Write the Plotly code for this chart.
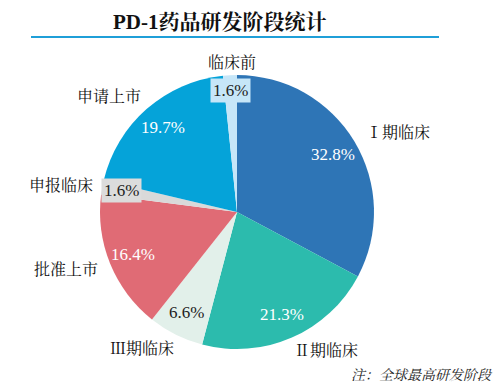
import math
import plotly.graph_objects as go

categories = ["Ⅰ期临床", "Ⅱ期临床", "Ⅲ期临床", "批准上市", "申报临床", "申请上市", "临床前"]
counts = [20, 13, 4, 10, 1, 12, 1]
colors = ["#2e75b6", "#2cbbad", "#e2f0ea", "#e06b75", "#d9d9d9", "#05a3d9", "#c6e6f8"]
text_colors = ["white", "white", "#222222", "white", "#222222", "white", "#222222"]
label_boxes = [None, None, None, None, "#dcdcdc", None, "#c6e6f8"]
name_pos = [(398, 132), (326, 350), (142, 348), (66, 269), (61, 185), (109, 97), (232, 62)]

W, H = 501, 385
CX, CY, R = 237, 212, 137
SERIF = "Liberation Serif, 'Noto Serif CJK SC', 'Noto Sans CJK SC', serif"

fig = go.Figure(go.Pie(
    labels=categories, values=counts, sort=False, direction="clockwise", rotation=0,
    marker=dict(colors=colors, line=dict(width=0)),
    textinfo="none", hoverinfo="label+percent", showlegend=False,
    domain=dict(x=[(CX - R) / W, (CX + R) / W], y=[(H - CY - R) / H, (H - CY + R) / H]),
))

total = sum(counts)
cum = 0
ann = []
for i, c in enumerate(counts):
    mid = (cum + c / 2) / total * 2 * math.pi
    cum += c
    rr = 0.82 * R if c > 1 else 0.86 * R
    if i == 6:
        rr = 0.89 * R
    px = CX + rr * math.sin(mid)
    py = CY - rr * math.cos(mid)
    pct = f"{c / total * 100:.1f}%"
    a = dict(x=px / W, y=1 - py / H, xref="paper", yref="paper", text=pct, showarrow=False,
             font=dict(family=SERIF, size=17, color=text_colors[i]), xanchor="center", yanchor="middle")
    if label_boxes[i]:
        a["bgcolor"] = label_boxes[i]
        a["borderpad"] = 2
    ann.append(a)
    nx, ny = name_pos[i]
    ann.append(dict(x=nx / W, y=1 - ny / H, xref="paper", yref="paper", text=categories[i], showarrow=False,
                    font=dict(family=SERIF, size=16, color="#111111"), xanchor="center", yanchor="middle"))

ann.append(dict(x=220 / W, y=1 - 22 / H, xref="paper", yref="paper", text="<b>PD-1药品研发阶段统计</b>",
                showarrow=False, font=dict(family=SERIF, size=21, color="#111111"),
                xanchor="center", yanchor="middle"))
ann.append(dict(x=495 / W, y=1 - 375 / H, xref="paper", yref="paper", text="<i>注：全球最高研发阶段</i>",
                showarrow=False, font=dict(family=SERIF, size=14, color="#222222"),
                xanchor="right", yanchor="middle"))

fig.update_layout(
    width=W, height=H, margin=dict(l=0, r=0, t=0, b=0),
    paper_bgcolor="white", plot_bgcolor="white",
    annotations=ann,
    shapes=[dict(type="line", xref="paper", yref="paper", x0=31 / W, x1=439 / W,
                 y0=1 - 37 / H, y1=1 - 37 / H, line=dict(color="#1f9fd8", width=2))],
)
fig.write_html("out.html", config={"displayModeBar": False},
               post_script="document.body.style.margin='0';document.body.style.overflow='hidden';")
